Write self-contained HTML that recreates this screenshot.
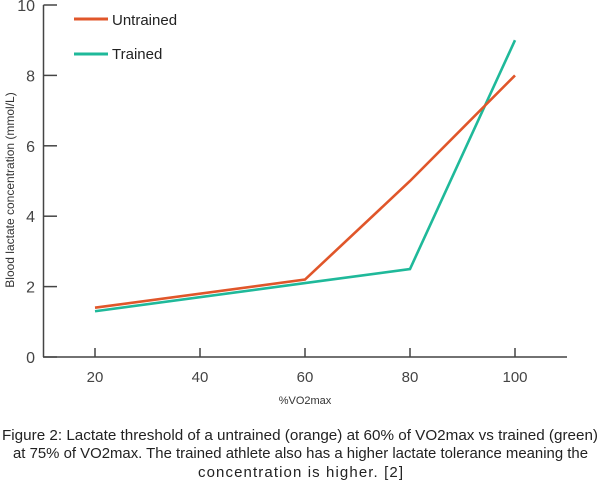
<!DOCTYPE html>
<html><head><meta charset="utf-8"><style>
html,body{margin:0;padding:0;background:#fff;}
svg{display:block;font-family:"Liberation Sans",sans-serif;}
</style></head><body>
<svg id="chart" width="600" height="483" viewBox="0 0 600 483">
<g id="axes"></g>
<g id="series"></g>
<g>
  <line x1="74" y1="19" x2="108" y2="19" stroke="#e0562a" stroke-width="3"/>
  <text x="112" y="25" font-size="15" fill="#222">Untrained</text>
  <line x1="74" y1="54" x2="108" y2="54" stroke="#1fb99a" stroke-width="3"/>
  <text x="112" y="59" font-size="15" fill="#222">Trained</text>
</g>
<text x="14" y="190" font-size="12" fill="#333" text-anchor="middle" transform="rotate(-90 14 190)">Blood lactate concentration (mmol/L)</text>
<text x="305" y="404" font-size="11" fill="#333" text-anchor="middle">%VO2max</text>
<g font-size="15" fill="#222">
  <text x="2" y="440" textLength="596" lengthAdjust="spacingAndGlyphs">Figure 2: Lactate threshold of a untrained (orange) at 60% of VO2max vs trained (green)</text>
  <text x="13" y="458" textLength="575" lengthAdjust="spacingAndGlyphs">at 75% of VO2max. The trained athlete also has a higher lactate tolerance meaning the</text>
  <text x="198" y="477" textLength="205" lengthAdjust="spacing">concentration is higher. [2]</text>
</g>
</svg>
<script>
const xCategories = [20, 60, 80, 100];
const untrainedValues = [1.4, 2.2, 5, 8];
const trainedValues = [1.3, 2.1, 2.5, 9];
const xTickLabels = [20, 40, 60, 80, 100];
const yTickLabels = [0, 2, 4, 6, 8, 10];

const NS = "http://www.w3.org/2000/svg";
function xScale(v){ return 95 + (v - 20) * 5.25; }
function yScale(v){ return 357 - v * 35.2; }
function mk(tag, attrs, parent){ const e = document.createElementNS(NS, tag); for (const k in attrs) e.setAttribute(k, attrs[k]); parent.appendChild(e); return e; }

const axes = document.getElementById('axes');
let yAxis = mk('line', {x1:43.5, y1:yScale(10), x2:43.5, y2:357, stroke:'#444', 'stroke-width':1.5}, axes);


let xAxis = mk('line', {x1:43, y1:357, x2:567, y2:357, stroke:'#444', 'stroke-width':1.5}, axes);



yTickLabels.forEach(v => {
  const y = yScale(v);
  const t = mk('line', {x1:43.5, y1:y, x2:57, y2:y, stroke:'#444', 'stroke-width':1.5}, axes);
  
  
  const l = mk('text', {x:35, y:y+6, 'font-size':16, fill:'#444', 'text-anchor':'end'}, axes);
  l.textContent = v;
  
  
});
xTickLabels.forEach(v => {
  const x = xScale(v);
  const t = mk('line', {x1:x, y1:348, x2:x, y2:357, stroke:'#444', 'stroke-width':1.5}, axes);
  
  
  const l = mk('text', {x:x, y:382, 'font-size':15, fill:'#444', 'text-anchor':'middle'}, axes);
  l.textContent = v;
  
  
});

const series = document.getElementById('series');
function drawLine(vals, color, name){
  const pts = xCategories.map((c, i) => xScale(c) + ',' + yScale(vals[i])).join(' ');
  const p = mk('polyline', {points:pts, fill:'none', stroke:color, 'stroke-width':2.6, 'stroke-linejoin':'miter'}, series);
  
  
}
drawLine(trainedValues, '#1fb99a', 'trained-line');
drawLine(untrainedValues, '#e0562a', 'untrained-line');
</script>
</body></html>
